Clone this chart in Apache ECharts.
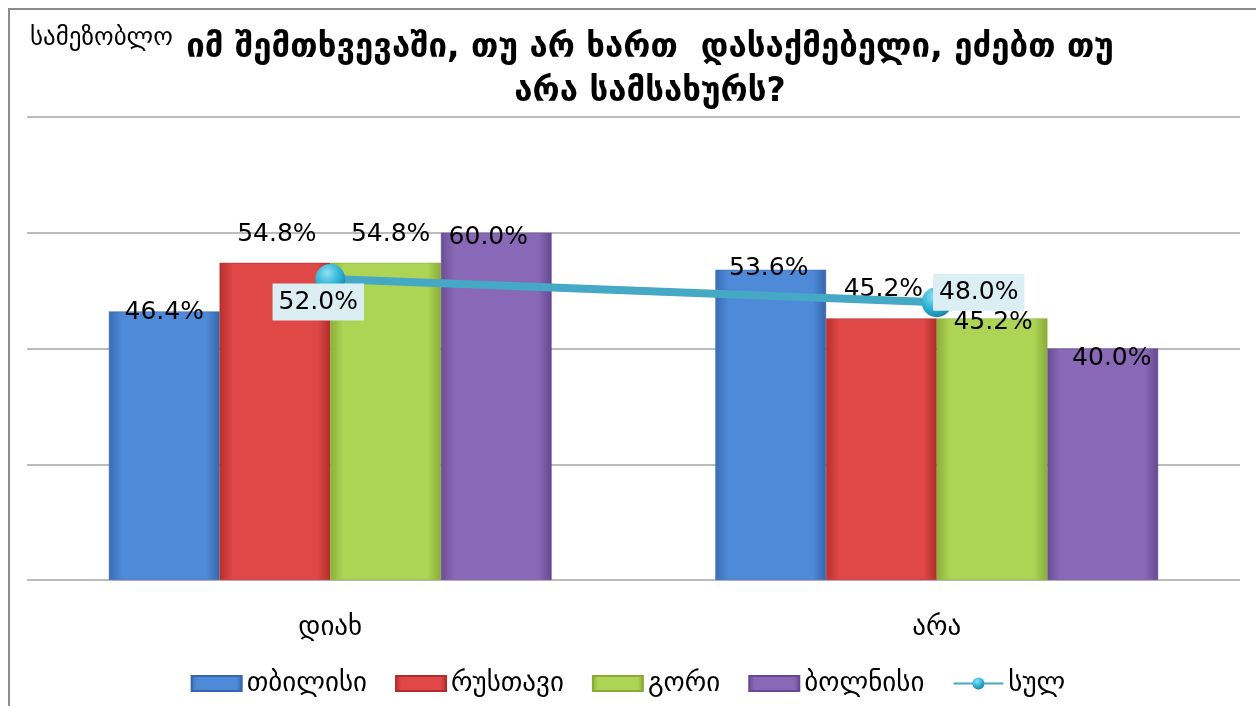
<!DOCTYPE html>
<html><head><meta charset="utf-8">
<script src="https://cdn.jsdelivr.net/npm/echarts@6/dist/echarts.min.js"></script>
<style>html,body{margin:0;padding:0;background:#fff}#c{width:1256px;height:706px}</style>
</head><body><div id="c"></div>
<script>
const categories = ['დიახ', 'არა'];
const seriesNames = ['თბილისი', 'რუსთავი', 'გორი', 'ბოლნისი'];
const tbilisi = [46.4, 53.6];
const rustavi = [54.8, 45.2];
const gori = [54.8, 45.2];
const bolnisi = [60.0, 40.0];
const totalName = 'სულ';
const total = [52.0, 48.0];
const yTicks = [0, 20, 40, 60, 80];

const barValues = [tbilisi, rustavi, gori, bolnisi];
const baseColors = [
  ['#3a6db5', '#4f8ad8', '#3566ab'],
  ['#b8302e', '#df4846', '#b02d2b'],
  ['#8db03a', '#aed455', '#88ab36'],
  ['#6a4d94', '#8a68b8', '#654890']
];
const labelOffsets = [
  [[0, 14], [-2, 11]],
  [[2, -16], [2, -16]],
  [[5, -16], [1, 17]],
  [[-8, 17], [9, 22]]
];
const chart = echarts.init(document.getElementById('c'));
const barSeries = barValues.map((vals, si) => ({
  name: seriesNames[si],
  type: 'bar',
  barGap: '0%',
  barCategoryGap: '27%',
  itemStyle: {
    color: new echarts.graphic.LinearGradient(0, 0, 1, 0, [
      {offset: 0, color: baseColors[si][0]},
      {offset: 0.12, color: baseColors[si][1]},
      {offset: 0.88, color: baseColors[si][1]},
      {offset: 1, color: baseColors[si][2]}
    ]),
    borderColor: baseColors[si][2],
    borderWidth: 0.5
  },
  data: vals.map((v, ci) => ({
    value: v,
    label: {offset: labelOffsets[si][ci]}
  })),
  label: {
    show: true,
    position: 'top',
    distance: 0,
    formatter: p => p.value.toFixed(1) + '%',
    fontFamily: 'DejaVu Sans',
    fontSize: 25,
    color: '#000'
  },
  z: 2
}));
const lineOffsets = [[-12, 23], [42, -10]];
const lineSeries = {
  name: totalName,
  type: 'line',
  data: total.map((v, ci) => ({value: v, label: {offset: lineOffsets[ci]}})),
  lineStyle: {color: '#45a8c4', width: 8},
  symbol: 'circle',
  symbolSize: 30,
  itemStyle: {
    color: new echarts.graphic.RadialGradient(0.4, 0.3, 0.7, [
      {offset: 0, color: '#8fe0f2'},
      {offset: 0.6, color: '#2fb3d6'},
      {offset: 1, color: '#1b87a8'}
    ])
  },
  label: {
    show: true,
    position: 'inside',
    formatter: p => p.value.toFixed(1) + '%',
    fontFamily: 'DejaVu Sans',
    fontSize: 25,
    color: '#000',
    backgroundColor: '#daeef3',
    padding: [7, 6, 5, 6]
  },
  z: 5
};

chart.setOption({
  animation: false,
  backgroundColor: '#fff',
  title: {
    text: 'იმ შემთხვევაში, თუ არ ხართ  დასაქმებელი, ეძებთ თუ\nარა სამსახურს?',
    left: 645,
    textAlign: 'center',
    top: 21,
    textStyle: {fontFamily: 'DejaVu Sans', fontSize: 33, fontWeight: 'bold', color: '#000', lineHeight: 44}
  },
  graphic: [
    {type: 'polyline', shape: {points: [[9, 706], [9, 9], [1256, 9]]}, style: {stroke: '#8c8c8c', lineWidth: 2, fill: null}},
    {type: 'text', left: 30, top: 26, style: {text: 'სამეზობლო', fontFamily: 'DejaVu Sans', fontSize: 25, fill: '#000'}}
  ],
  legend: {
    bottom: 4,
    left: 'center',
    itemWidth: 50,
    itemHeight: 15,
    itemGap: 28,
    textStyle: {fontFamily: 'DejaVu Sans', fontSize: 27, color: '#000'},
    data: [
      ...seriesNames.map((n, i) => ({name: n, icon: 'rect'})),
      {name: totalName}
    ]
  },
  grid: {left: 27, right: 16, top: 117, bottom: 126, containLabel: false},
  xAxis: {
    type: 'category',
    data: categories,
    axisLine: {show: false},
    axisTick: {show: false},
    axisLabel: {fontFamily: 'DejaVu Sans', fontSize: 27, color: '#000', margin: 34}
  },
  yAxis: {
    type: 'value',
    min: yTicks[0],
    max: yTicks[yTicks.length - 1],
    interval: yTicks[1] - yTicks[0],
    axisLabel: {show: false},
    axisLine: {show: false},
    axisTick: {show: false},
    splitLine: {lineStyle: {color: '#a6a6a6', width: 1.5}}
  },
  series: [...barSeries, lineSeries]
});
</script>
</body></html>
